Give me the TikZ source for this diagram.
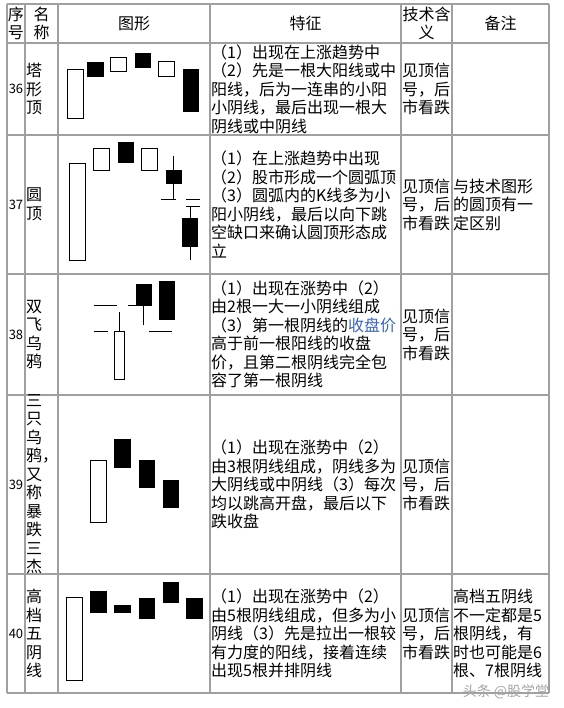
\documentclass[tikz,border=0pt]{standalone}
\usepackage{fontspec}
\newfontfamily\cjk{Noto Sans CJK SC}
\definecolor{gridc}{RGB}{160,160,160}
\definecolor{linkc}{RGB}{58,100,190}
\begin{document}
\begin{tikzpicture}[x=1pt,y=-1pt,
  gl/.style={draw=gridc,line width=1.6pt},
  wc/.style={draw=black,fill=white,line width=0.9pt},
  bc/.style={fill=black},
  sh/.style={draw=black,line width=0.9pt},
  tx/.style={font=\cjk\fontsize{16}{18.5}\selectfont,inner sep=0pt,align=left,anchor=west},
  hd/.style={font=\cjk\fontsize{16}{18.5}\selectfont,inner sep=0pt,align=center},
  num/.style={font=\cjk\fontsize{13}{15}\selectfont,inner sep=0pt},
  wm/.style={font=\cjk\fontsize{14}{16}\selectfont,inner sep=0pt,text=gray!70}]
\fill[white] (0,0) rectangle (563,708);
\useasboundingbox (0,0) rectangle (563,708);
% grid
\foreach \y in {4,43,135,274,395,574,693} \draw[gl] (7,\y) -- (549,\y);
\foreach \x in {7,25,58,210,401,452,549} \draw[gl] (\x,4) -- (\x,693);
% header
\node[hd] (h1) at (16,23.5) {序\\号};
\node[hd] (h2) at (41.5,23.5) {名\\称};
\node[hd] (h3) at (134,23.5) {图形};
\node[hd] (h4) at (305.5,23.5) {特征};
\node[hd] (h5) at (426.5,23.5) {技术含\\义};
\node[hd] (h6) at (500.5,23.5) {备注};
% row 36
\node[num] (n36) at (16,89) {36};
\node[tx] (a36) at (26,89) {塔\\形\\顶};
\node[tx] (f36) at (211,89) {（1）出现在上涨趋势中\\（2）先是一根大阳线或中\\阳线，后为一连串的小阳\\小阴线，最后出现一根大\\阴线或中阴线};
\node[tx] (t36) at (402,89) {见顶信\\号，后\\市看跌};
\draw[wc] (67.6,69) rectangle (83.5,118);
\fill[bc] (87.4,62) rectangle (104.3,77);
\draw[wc] (110.4,57.3) rectangle (126.6,71.7);
\fill[bc] (134.5,53.3) rectangle (151,67.7);
\draw[wc] (158.6,61.7) rectangle (174.8,76.7);
\fill[bc] (182.7,69) rectangle (199,111.7);
% row 37
\node[num] (n37) at (16,204.5) {37};
\node[tx] (a37) at (26,204.5) {圆\\顶};
\node[tx] (f37) at (211,204.5) {（1）在上涨趋势中出现\\（2）股市形成一个圆弧顶\\（3）圆弧内的K线多为小\\阳小阴线，最后以向下跳\\空缺口来确认圆顶形态成\\立};
\node[tx] (t37) at (402,204.5) {见顶信\\号，后\\市看跌};
\node[tx] (r37) at (453,204.5) {与技术图形\\的圆顶有一\\定区别};
\draw[wc] (69.4,163.3) rectangle (85.6,260);
\draw[wc] (93.5,148.3) rectangle (109.7,170);
\fill[bc] (117.6,142.3) rectangle (133.8,163.3);
\draw[wc] (141.4,148.3) rectangle (157.2,170);
\draw[sh] (173.7,156) -- (173.7,199);
\fill[bc] (165.5,170) rectangle (182,184.3);
\draw[sh] (160.8,199) -- (176.3,199);
\draw[sh] (186.3,199) -- (199.6,199);
\draw[sh] (186.3,206) -- (199.6,206);
\draw[sh] (190,206) -- (190,260);
\fill[bc] (181.7,218.3) rectangle (197.8,246.7);
% row 38
\node[num] (n38) at (16,334.5) {38};
\node[tx] (a38) at (26,334.5) {双\\飞\\乌\\鸦};
\node[tx] (f38) at (211,334.5) {（1）出现在涨势中（2）\\由2根一大一小阴线组成\\（3）第一根阴线的\textcolor{linkc}{收盘价}\\高于前一根阳线的收盘\\价，且第二根阴线完全包\\容了第一根阴线};
\node[tx] (t38) at (402,334.5) {见顶信\\号，后\\市看跌};
\draw[sh] (94.2,305) -- (116.9,305);
\draw[sh] (128.4,305) -- (136,305);
\draw[sh] (143.9,300) -- (143.9,325);
\fill[bc] (135.6,284) rectangle (151.8,305.7);
\fill[bc] (159.4,281) rectangle (174.5,320);
\draw[sh] (93.5,331.7) -- (107.9,331.7);
\draw[sh] (149.3,331.7) -- (172,331.7);
\draw[sh] (119,312.3) -- (119,331.7);
\draw[wc] (114.4,331.7) rectangle (124.1,379);
% row 39
\node[num] (n39) at (16,484.5) {39};
\node[tx,anchor=north west] (a39) at (26,394) {三\\只\\乌\\鸦，\\又\\称\\暴\\跌\\三\\杰};
\node[tx] (f39) at (211,484.5) {（1）出现在涨势中（2）\\由3根阴线组成，阴线多为\\大阴线或中阴线（3）每次\\均以跳高开盘，最后以下\\跌收盘};
\node[tx] (t39) at (402,484.5) {见顶信\\号，后\\市看跌};
\draw[wc] (90.6,460) rectangle (106.8,522.3);
\fill[bc] (114.4,439.3) rectangle (131,467.7);
\fill[bc] (138.5,460) rectangle (155,487.7);
\fill[bc] (162.6,480) rectangle (179,508.3);
% row 40
\node[num] (n40) at (16,633.5) {40};
\node[tx] (a40) at (26,633.5) {高\\档\\五\\阴\\线};
\node[tx] (f40) at (211,633.5) {（1）出现在涨势中（2）\\由5根阴线组成，但多为小\\阴线（3）先是拉出一根较\\有力度的阳线，接着连续\\出现5根并排阴线};
\node[tx] (t40) at (402,633.5) {见顶信\\号，后\\市看跌};
\node[tx] (r40) at (453,633.5) {高档五阴线\\不一定都是5\\根阴线，有\\时也可能是6\\根、7根阴线};
\draw[wc] (66.5,597.3) rectangle (82.7,680);
\fill[bc] (90,591) rectangle (106.8,612.7);
\fill[bc] (114.4,604.7) rectangle (131,612.7);
\fill[bc] (138.5,598) rectangle (155,619.3);
\fill[bc] (162.6,582.3) rectangle (179,603.3);
\fill[bc] (186.3,598) rectangle (202.9,619.3);
% watermark
\node[wm] (wm) at (506,692) {头条 @股学堂};
\end{tikzpicture}
\end{document}
